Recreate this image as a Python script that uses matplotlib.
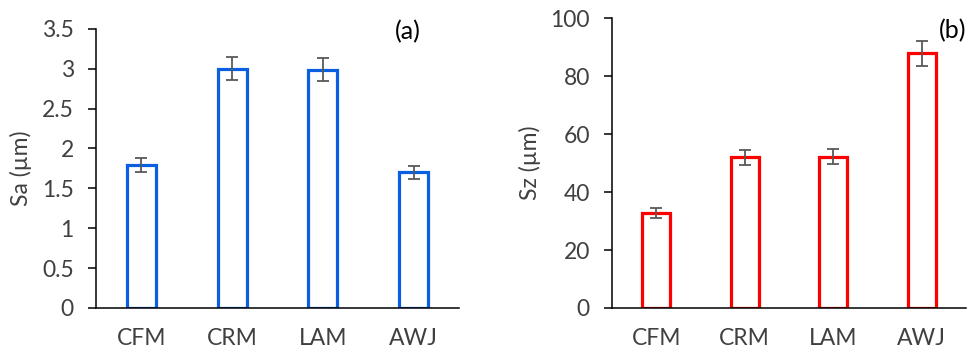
import matplotlib
matplotlib.use("Agg")
import matplotlib.pyplot as plt
import numpy as np

plt.rcParams['font.family'] = ['Lato', 'DejaVu Sans']

categories = ["CFM", "CRM", "LAM", "AWJ"]
sa_values = [1.79, 3.0, 2.99, 1.70]
sa_errors = [0.09, 0.145, 0.14, 0.085]
sz_values = [32.9, 52.0, 52.2, 87.9]
sz_errors = [1.7, 2.6, 2.6, 4.3]

sa_ticks = [0, 0.5, 1, 1.5, 2, 2.5, 3, 3.5]
sa_ticklabels = ["0", "0.5", "1", "1.5", "2", "2.5", "3", "3.5"]
sz_ticks = [0, 20, 40, 60, 80, 100]

fig = plt.figure(figsize=(9.73, 3.52), dpi=100)
ax1 = fig.add_axes([0.0987, 0.125, 0.3730, 0.793])
ax2 = fig.add_axes([0.629, 0.125, 0.3638, 0.823])

tick_color = "#404040"


def draw_panel(ax, values, errors, color, ylim, ticks, ticklabels, ylabel, tag, tag_xy):
    x = np.arange(len(categories))
    ax.bar(x, values, width=0.32, facecolor="white", edgecolor=color,
           linewidth=2.3, zorder=2)
    ax.errorbar(x, values, yerr=errors, fmt="none", ecolor="#595959",
                elinewidth=1.3, capsize=4, capthick=1.3, zorder=3)
    ax.set_xlim(-0.5, len(categories) - 0.5)
    ax.set_ylim(*ylim)
    ax.set_yticks(ticks)
    ax.set_yticklabels(ticklabels)
    ax.set_xticks(x)
    ax.set_xticklabels(categories)
    for s in ("top", "right"):
        ax.spines[s].set_visible(False)
    for s in ("left", "bottom"):
        ax.spines[s].set_linewidth(1.1)
        ax.spines[s].set_color("black")
    ax.tick_params(axis="y", direction="out", length=6, width=1.1,
                   labelsize=16.5, labelcolor=tick_color, pad=10)
    ax.tick_params(axis="x", length=0, labelsize=16.5, labelcolor=tick_color, pad=14.5)
    ax.set_ylabel(ylabel, fontsize=16.5, color=tick_color, labelpad=7)
    ax.text(tag_xy[0], tag_xy[1], tag, transform=ax.transAxes, fontsize=18,
            color="black", ha="center", va="center")


draw_panel(ax1, sa_values, sa_errors, "#0a5ee0", (0, 3.5), sa_ticks, sa_ticklabels,
           "Sa (µm)", "(a)", (0.86, 0.99))
draw_panel(ax2, sz_values, sz_errors, "#ff0000", (0, 100), sz_ticks,
           [str(t) for t in sz_ticks], "Sz (µm)", "(b)", (0.962, 0.956))

fig.savefig("out.png", dpi=100)
